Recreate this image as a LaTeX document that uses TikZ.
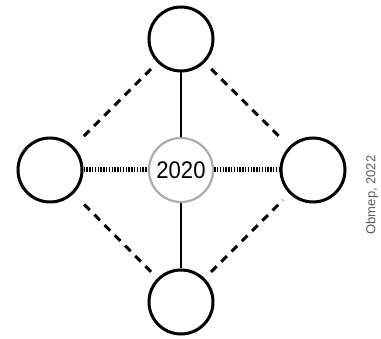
\documentclass[tikz,border=0pt]{standalone}
\usepackage{fontspec}
\setmainfont{Liberation Sans}
\usepackage{xcolor}
\usepackage{tikz}
\usetikzlibrary{positioning}

\begin{document}
\begin{tikzpicture}[x=1pt,y=-1pt,
  cir/.style={draw,circle,line width=3pt,minimum size=64pt,inner sep=0pt},
  ctr/.style={cir,draw=gray!65,line width=2.2pt,font=\fontsize{24}{28}\selectfont},
  dsh/.style={line width=3pt,dash pattern=on 8pt off 6.5pt,shorten <=9pt,shorten >=9pt},
  dot/.style={line width=5pt,dash pattern=on 1.4pt off 1.4pt},
  sol/.style={line width=2.8pt}]
\useasboundingbox (0,0) rectangle (381,339);
\node[ctr] (M) at (181,170) {\scalebox{0.92}[1]{2020}};
\node[cir] (T) at (181,39) {};
\node[cir] (B) at (181,302) {};
\node[cir] (L) at (50,170) {};
\node[cir] (R) at (313,170) {};
\draw[sol] (T) -- (M);
\draw[sol] (M) -- (B);
\draw[dot] (L) -- (M);
\draw[dot] (M) -- (R);
\draw[dsh] (T) -- (L);
\draw[dsh] (T) -- (R);
\draw[dsh] (B) -- (L);
\draw[dsh] (B) -- (R);
\node[rotate=90,text=gray!70!black,font=\fontsize{13}{15}\selectfont] (src) at (372,195) {Obmep, 2022};
\end{tikzpicture}
\end{document}
